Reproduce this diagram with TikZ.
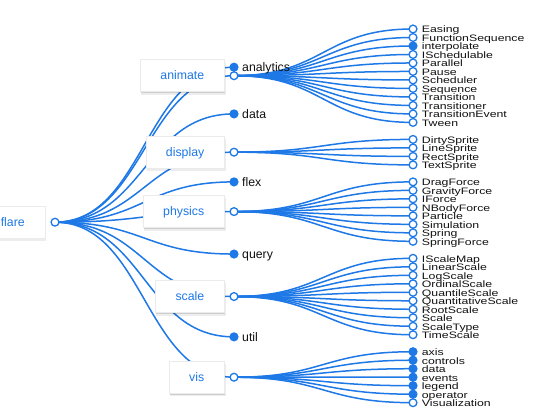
\documentclass[tikz,border=0pt]{standalone}
\usepackage{fontspec}
\setmainfont{Liberation Sans}
\usepackage{graphicx}
\usetikzlibrary{shadows}
\definecolor{lk}{RGB}{30,120,230}
\definecolor{tx}{RGB}{17,17,17}
\newcommand{\lbfont}{\fontsize{12.3}{14}\selectfont}
\newcommand{\squash}[1]{\scalebox{1}[0.76]{#1}}
\begin{document}
\begin{tikzpicture}[x=1pt,y=-1pt,
  link/.style={draw=lk, line width=1.5pt},
  dotopen/.style={circle, draw=lk, line width=1.3pt, fill=white, inner sep=0pt, minimum size=7.8pt},
  dotfull/.style={dotopen, fill=lk},
  boxshadow/.style={general shadow={fill=black, opacity=0.07, shadow xshift=1.2pt, shadow yshift=-3pt, shadow scale=1.01},
                    general shadow={fill=black, opacity=0.13, shadow xshift=0.7pt, shadow yshift=-1.3pt}},
  lbox/.style={boxshadow, fill=white, draw=black!8, line width=0.5pt, inner xsep=20pt, inner ysep=0pt,
               minimum height=32pt, text height=9pt, text depth=1pt, text=lk, font=\lbfont, anchor=east},
  lab1/.style={anchor=base west, text=tx, font=\lbfont, inner sep=0pt},
  lab2/.style={anchor=base west, text=tx, font=\lbfont, inner sep=0pt},
]
\useasboundingbox (0,0) rectangle (550,420);
% positions
\coordinate (flare) at (55,222.2);
\foreach \n/\y in {animate/75.71, display/152.15, physics/211.6, scale/296.53, vis/377.21,
                   analytics/67.2, data/113.9, flex/181.9, query/254.05, util/336.87}
  \coordinate (\n) at (234,\y);
\def\levtwo{animate/Easing/0/open, animate/FunctionSequence/1/open, animate/interpolate/2/full,
  animate/ISchedulable/3/open, animate/Parallel/4/open, animate/Pause/5/open, animate/Scheduler/6/open,
  animate/Sequence/7/open, animate/Transition/8/open, animate/Transitioner/9/open,
  animate/TransitionEvent/10/open, animate/Tween/11/open,
  display/DirtySprite/13/open, display/LineSprite/14/open, display/RectSprite/15/open, display/TextSprite/16/open,
  physics/DragForce/18/open, physics/GravityForce/19/open, physics/IForce/20/open, physics/NBodyForce/21/open,
  physics/Particle/22/open, physics/Simulation/23/open, physics/Spring/24/open, physics/SpringForce/25/open,
  scale/IScaleMap/27/open, scale/LinearScale/28/open, scale/LogScale/29/open, scale/OrdinalScale/30/open,
  scale/QuantileScale/31/open, scale/QuantitativeScale/32/open, scale/RootScale/33/open, scale/Scale/34/open,
  scale/ScaleType/35/open, scale/TimeScale/36/open,
  vis/axis/38/full, vis/controls/39/full, vis/data/40/full, vis/events/41/full, vis/legend/42/full,
  vis/operator/43/full, vis/Visualization/44/open}
\foreach \p/\n/\k/\t in \levtwo
  \coordinate (c\k) at (413,{29+8.493*\k});
% links
\foreach \n in {analytics,animate,data,display,flex,physics,query,scale,util,vis}
  \draw[link] (flare) .. controls +(89.5,0) and +(-89.5,0) .. (\n);
\foreach \p/\n/\k/\t in \levtwo
  \draw[link] (\p) .. controls +(89.5,0) and +(-89.5,0) .. (c\k);
% label boxes
\node[lbox] (bflare) at ([xshift=-10pt]flare) {flare};
\foreach \n in {animate,display,physics,scale,vis}
  \node[lbox] (b\n) at ([xshift=-9.5pt]\n) {\n};
% circles and labels
\node[dotopen] (dflare) at (flare) {};
\foreach \n in {animate,display,physics,scale,vis}
  \node[dotopen] (d\n) at (\n) {};
\foreach \n in {analytics,data,flex,query,util}{
  \node[dotfull] (d\n) at (\n) {};
  \node[lab1] (t\n) at ([xshift=8pt,yshift=-4.5pt]\n) {\n};
}
\foreach \p/\n/\k/\t in \levtwo{
  \node[dot\t] (d\k) at (c\k) {};
  \node[lab2] (t\k) at ([xshift=8.7pt,yshift=-4pt]c\k) {\squash{\n}};
}
\end{tikzpicture}
\end{document}
